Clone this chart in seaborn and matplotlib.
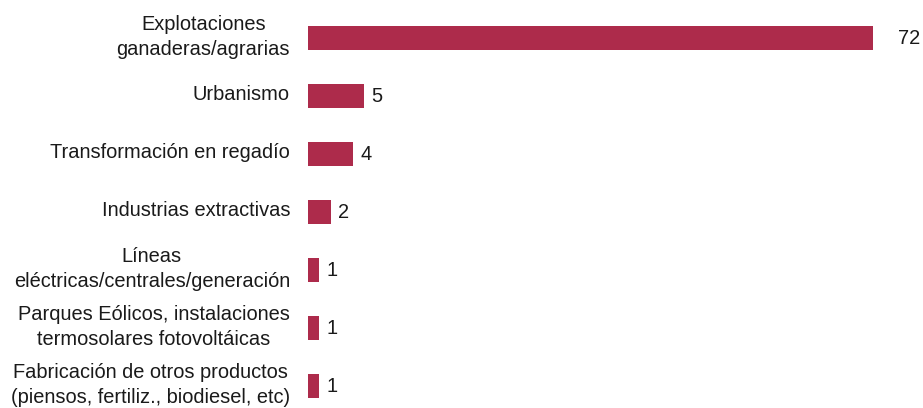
import matplotlib
matplotlib.use("Agg")
import matplotlib.pyplot as plt
import matplotlib.transforms as mtransforms
import seaborn as sns
import pandas as pd

categories = [
    "Explotaciones\nganaderas/agrarias",
    "Urbanismo",
    "Transformación en regadío",
    "Industrias extractivas",
    "Líneas\neléctricas/centrales/generación",
    "Parques Eólicos, instalaciones\ntermosolares fotovoltáicas",
    "Fabricación de otros productos\n(piensos, fertiliz., biodiesel, etc)",
]
values = [72, 5, 4, 2, 1, 1, 1]
value_labels = ["72", "5", "4", "2", "1", "1", "1"]

bar_color = "#ad2b4b"
text_color = "#1a1a1a"
x_max = 50.2

sns.set_theme(style="white")
plt.rcParams["font.family"] = ["Liberation Sans", "DejaVu Sans"]

df = pd.DataFrame({"cat": categories, "val": values})

fig = plt.figure(figsize=(9.23, 4.08), dpi=100)
ax = fig.add_axes([308 / 923, 0, (873 - 308) / 923, 1])

sns.barplot(data=df, y="cat", x="val", orient="h", color=bar_color,
            saturation=1, width=0.414, linewidth=0, ax=ax)

ax.set_xlim(0, x_max)
ax.set_ylim(6 + 22 / 58, -38 / 58)
ax.set_xlabel("")
ax.set_ylabel("")
ax.set_xticks([])
ax.tick_params(axis="y", length=0, labelleft=False)
for s in ax.spines.values():
    s.set_visible(False)

base_tr = ax.get_yaxis_transform()
for i, name in enumerate(categories):
    # last-line baseline offset in pixels (positive = up)
    dy = -17 if "\n" in name else -4
    tr = base_tr + mtransforms.ScaledTranslation(-18 / 100, dy / 100, fig.dpi_scale_trans)
    ax.text(0, i, name, transform=tr, ha="right", va="baseline",
            multialignment="center", linespacing=1.38, fontsize=14.4,
            color=text_color, clip_on=False)

for i, (v, t) in enumerate(zip(values, value_labels)):
    clipped = v > x_max
    xpos = min(v, x_max)
    pad = 25 if clipped else 7
    ax.annotate(t, xy=(xpos, i), xytext=(pad * 0.72, 0), textcoords="offset points",
                ha="left", va="center", fontsize=14.4, color=text_color,
                annotation_clip=False)

fig.savefig("out.png", dpi=100)
